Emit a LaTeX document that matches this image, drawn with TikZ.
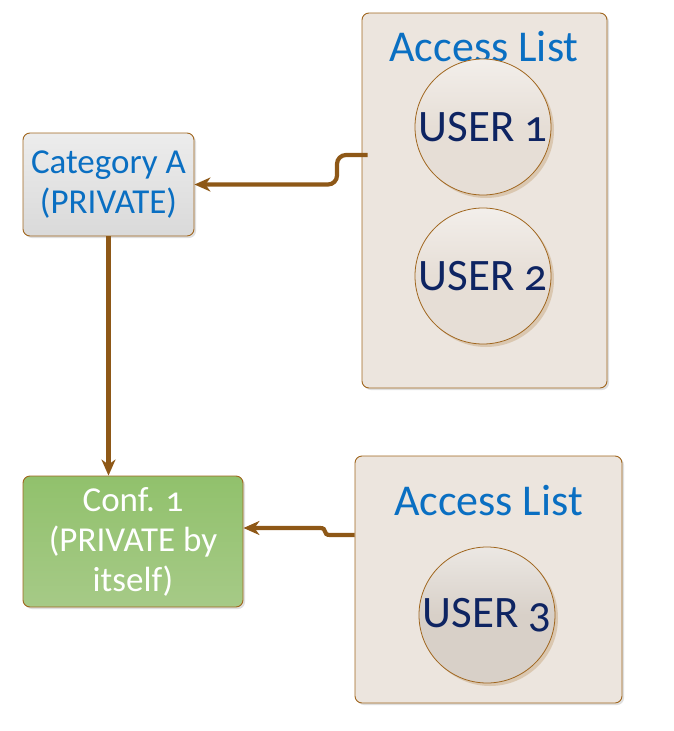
\documentclass[tikz,border=0pt]{standalone}
\usepackage{fontspec}
\setmainfont{Carlito}[Numbers=OldStyle]
\usetikzlibrary{shadows,arrows.meta}

\definecolor{edgebrown}{HTML}{A0661E}
\definecolor{linebrown}{HTML}{8E5817}
\definecolor{titleblue}{HTML}{0A6FC2}
\definecolor{usernavy}{HTML}{0E2462}
\definecolor{listfill}{HTML}{ECE5DE}
\definecolor{catfill}{HTML}{E0E0E0}
\definecolor{greentop}{HTML}{91C16C}
\definecolor{greenbot}{HTML}{A6CA87}
\definecolor{userfill}{HTML}{E6DED6}
\definecolor{userdark}{HTML}{D8D0C8}

\tikzset{
  box/.style={draw=edgebrown, line width=0.9pt, rounded corners=7pt,
    drop shadow={opacity=0.25, shadow xshift=2pt, shadow yshift=-2pt}},
  catbox/.style={box, top color=catfill!60!white, bottom color=catfill!97!black,
    text=titleblue, align=center, font=\fontsize{35}{40}\selectfont},
  confbox/.style={box, top color=greentop, bottom color=greenbot,
    text=white, align=center, font=\fontsize{35}{40}\selectfont},
  listbox/.style={box, fill=listfill},
  listtitle/.style={text=titleblue, anchor=base, font=\fontsize{44}{50}\selectfont},
  user/.style={circle, draw=edgebrown, line width=0.8pt, minimum size=136pt, inner sep=0pt,
    top color=#1!50!white, bottom color=#1, middle color=#1,
    text=usernavy, font=\fontsize{45}{50}\selectfont,
    drop shadow={opacity=0.45, shadow xshift=3pt, shadow yshift=-3pt, fill=edgebrown!60}},
  user/.default={userfill},
  conn/.style={draw=linebrown, line width=4.2pt,
    -{Stealth[length=16pt, width=14pt, inset=5pt]}}
}

\begin{document}
\begin{tikzpicture}[x=1pt, y=-1pt]
    \useasboundingbox (0,0) rectangle (673,731);

    % categories / conferences
    \node[catbox, minimum width=171pt, minimum height=103pt] (catA) at (108.5,184.5) {Category A\\(PRIVATE)};
    \node[confbox, minimum width=220pt, minimum height=131pt] (conf) at (133,541.5) {Conf. 1\\(PRIVATE by\\itself)};

    % access lists
    \node[listbox, minimum width=245pt, minimum height=375pt] (al1) at (484.5,200.5) {};
    \node[listbox, minimum width=267pt, minimum height=247pt] (al2) at (488.5,579.5) {};
    \node[listtitle] (al1title) at (484,61) {Access List};
    \node[listtitle] (al2title) at (488.5,515) {Access List};

    % users
    \node[user] (user1) at (483,127) {USER 1};
    \node[user] (user2) at (483,276) {USER 2};
    \node[user=userdark] (user3) at (487,615) {USER 3};

    % connectors
    \draw[conn, rounded corners=9pt] ([xshift=6pt,yshift=45.5pt]al1.west) -- (337,155) -- (337,184.5) -- (catA.east);
    \draw[conn] (catA.south) -- (catA.south |- conf.north);
    \draw[conn] ([yshift=44.5pt]al2.west) -- (330,535) .. controls (322,535) and (328,528) .. (320,528) -- ([yshift=13.5pt]conf.east);

\end{tikzpicture}
\end{document}
